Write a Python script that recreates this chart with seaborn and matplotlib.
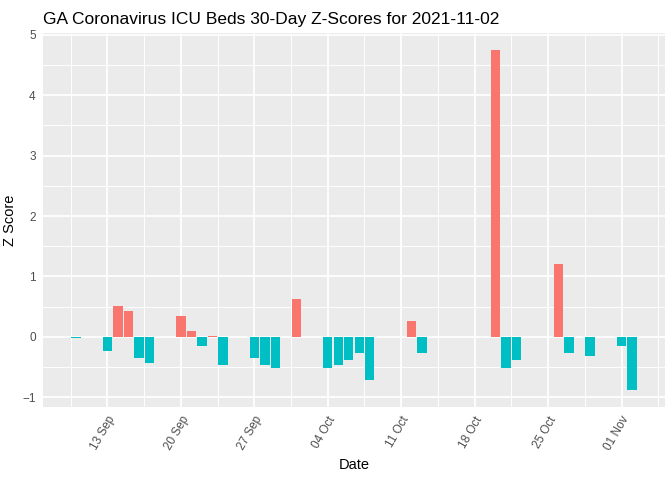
import numpy as np
import pandas as pd
import matplotlib
matplotlib.use("Agg")
import matplotlib.pyplot as plt
import matplotlib.dates as mdates
from matplotlib.ticker import FixedLocator
import seaborn as sns

# Values
fechas = ["2021-09-10", "2021-09-13", "2021-09-14", "2021-09-15", "2021-09-16",
          "2021-09-17", "2021-09-20", "2021-09-21", "2021-09-22", "2021-09-23",
          "2021-09-24", "2021-09-27", "2021-09-28", "2021-09-29", "2021-10-01",
          "2021-10-04", "2021-10-05", "2021-10-06", "2021-10-07", "2021-10-08",
          "2021-10-12", "2021-10-13", "2021-10-20", "2021-10-21", "2021-10-22",
          "2021-10-26", "2021-10-27", "2021-10-29", "2021-11-01", "2021-11-02"]
zscores = [-0.017, -0.23, 0.51, 0.43, -0.35,
           -0.43, 0.35, 0.10, -0.15, 0.02,
           -0.46, -0.35, -0.46, -0.51, 0.63,
           -0.51, -0.46, -0.38, -0.26, -0.71,
           0.26, -0.26, 4.75, -0.51, -0.38,
           1.20, -0.26, -0.31, -0.15, -0.88]

df = pd.DataFrame({"Date": pd.to_datetime(fechas), "Z": zscores})
df["x"] = mdates.date2num(df["Date"])
df["pos"] = np.where(df["Z"] > 0, "pos", "neg")

sns.set_theme(style="darkgrid")
plt.rcParams["font.family"] = ["Liberation Sans", "DejaVu Sans"]

fig = plt.figure(figsize=(7, 5), dpi=96)
ax = fig.add_axes([43 / 672, 1 - 407 / 480, (665 - 43) / 672, (407 - 33) / 480])
ax.set_facecolor("#EBEBEB")

sns.barplot(data=df, x="x", y="Z", hue="pos", native_scale=True, dodge=False,
            palette={"pos": "#F8766D", "neg": "#00BFC4"}, width=0.9,
            legend=False, ax=ax, errorbar=None, saturation=1,
            linewidth=0, edgecolor="none")

# ggplot-like expansion
x0, x1 = df["x"].min() - 0.45, df["x"].max() + 0.45
dx = (x1 - x0) * 0.05
ax.set_xlim(x0 - dx, x1 + dx)
y0, y1 = df["Z"].min(), df["Z"].max()
dy = (y1 - y0) * 0.05
ax.set_ylim(y0 - dy, y1 + dy)

ax.xaxis.set_major_locator(mdates.WeekdayLocator(byweekday=mdates.MO))
ax.xaxis.set_major_formatter(mdates.DateFormatter("%d %b"))
majors = ax.get_xticks()
minors = list(majors - 3.5) + [majors[-1] + 3.5]
ax.xaxis.set_minor_locator(FixedLocator(minors))
ax.set_yticks([-1, 0, 1, 2, 3, 4, 5])
ax.yaxis.set_minor_locator(FixedLocator([-0.5, 0.5, 1.5, 2.5, 3.5, 4.5]))

ax.grid(which="major", color="white", linewidth=1.3)
ax.grid(which="minor", color="white", linewidth=0.7)
ax.set_axisbelow(True)
for s in ax.spines.values():
    s.set_visible(False)

ax.tick_params(axis="both", which="major", length=3.5, width=0.8, color="#333333",
               labelsize=8.8, labelcolor="#4D4D4D", pad=2)
ax.tick_params(axis="both", which="minor", length=0)
plt.setp(ax.get_xticklabels(), rotation=60, ha="right", va="top", rotation_mode="anchor")

ax.set_xlabel("Date", fontsize=11, color="black", labelpad=4)
ax.set_ylabel("Z Score", fontsize=11, color="black", labelpad=4)
ax.set_title("GA Coronavirus ICU Beds 30-Day Z-Scores for 2021-11-02",
             fontsize=13, loc="left", color="black", pad=7)

fig.savefig("out.png", dpi=96)
